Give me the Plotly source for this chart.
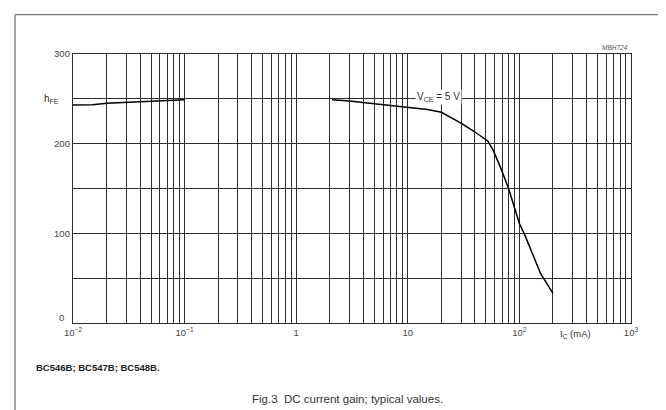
import plotly.graph_objects as go

# ---- data ----
ic_low = [0.01, 0.015, 0.02, 0.03, 0.05, 0.07, 0.1]
hfe_low = [243, 243.5, 245, 246, 247.5, 248.5, 249]
ic_high = [2.1, 3, 5, 10, 15, 20, 30, 40, 52, 58, 68, 80, 100, 112, 155, 200]
hfe_high = [249, 247.5, 244.5, 240, 238, 235, 223, 213, 203, 193, 173, 150, 111, 98, 55, 33]

x_decades = [0.01, 0.1, 1, 10, 100, 1000]
x_labels = ["10<sup>\u22122</sup>", "10<sup>\u22121</sup>", "1", "10", "10<sup>2</sup>", "10<sup>3</sup>"]
y_ticks = [0, 50, 100, 150, 200, 250, 300]
y_labels = ["", "", "100", "", "200", "", "300"]
y_zero_label = "0"

FONT = "Arial, Liberation Sans, sans-serif"
GRID = "#2e2e2e"
TXT = "#444444"

# grid positions (1..9 per decade)
xt, xtxt = [], []
for d, lab in zip(x_decades, x_labels):
    xt.append(d)
    xtxt.append(lab)
    if d < 1000:
        for m in range(2, 10):
            xt.append(d * m)
            xtxt.append("")

fig = go.Figure()
fig.add_trace(go.Scatter(
    x=ic_low + [None] + ic_high,
    y=hfe_low + [None] + hfe_high,
    mode="lines",
    line=dict(color="black", width=1.5),
    connectgaps=False,
    showlegend=False,
    hoverinfo="skip",
))

L, R, T, B = 65, 623, 45.5, 315.5
W, H = 666, 410


def px(x):
    return (x - L) / (R - L)


def py(y):
    return (B - y) / (B - T)


fig.update_layout(
    width=W, height=H,
    margin=dict(l=L, r=W - R, t=T, b=H - B),
    paper_bgcolor="white", plot_bgcolor="white",
    font=dict(family=FONT, size=10, color=TXT),
    xaxis=dict(
        type="log", range=[-2, 3],
        tickmode="array", tickvals=xt, ticktext=xtxt,
        showgrid=True, gridcolor=GRID, gridwidth=1.2,
        showline=True, linecolor=GRID, linewidth=1.2, mirror=True,
        ticks="", tickfont=dict(size=9.5, color=TXT, family=FONT),
        zeroline=False,
    ),
    yaxis=dict(
        range=[0, 300],
        tickmode="array", tickvals=y_ticks, ticktext=y_labels,
        showgrid=True, gridcolor=GRID, gridwidth=1.3,
        showline=True, linecolor=GRID, linewidth=1.3, mirror=True,
        ticks="", tickfont=dict(size=9.5, color=TXT, family=FONT),
        zeroline=False,
    ),
    annotations=[
        dict(x=px(58), y=py(310), xref="paper", yref="paper",
             text=y_zero_label, showarrow=False, xanchor="right", yanchor="middle",
             font=dict(size=9.5, color=TXT, family=FONT)),
        dict(x=1.279, y=252.5, xref="x", yref="y",
             text="V<sub>CE</sub> = 5 V", showarrow=False,
             font=dict(size=10, color="#333", family=FONT),
             bgcolor="white", borderpad=1),
        dict(x=px(53), y=py(91), xref="paper", yref="paper",
             text="h<sub>FE</sub>", showarrow=False, xanchor="right", yanchor="middle",
             font=dict(size=10, color="#333", family=FONT)),
        dict(x=px(550), y=py(327), xref="paper", yref="paper",
             text="I<sub>C</sub> (mA)", showarrow=False, xanchor="left", yanchor="middle",
             font=dict(size=9.5, color="#333", family=FONT)),
        dict(x=px(622), y=py(39), xref="paper", yref="paper",
             text="<i>MBH724</i>", showarrow=False, xanchor="right", yanchor="middle",
             font=dict(size=6.5, color="#555", family=FONT)),
        dict(x=px(26), y=py(360), xref="paper", yref="paper",
             text="<b>BC546B; BC547B; BC548B.</b>", showarrow=False, xanchor="left", yanchor="middle",
             font=dict(size=9.5, color="#222", family=FONT)),
        dict(x=px(339), y=py(391.5), xref="paper", yref="paper",
             text="Fig.3  DC current gain; typical values.", showarrow=False,
             xanchor="center", yanchor="middle",
             font=dict(size=11.5, color="#333", family=FONT)),
    ],
    shapes=[
        dict(type="line", xref="paper", yref="paper",
             x0=px(7), y0=py(6), x1=px(7), y1=py(412),
             line=dict(color="#777", width=1.3)),
        dict(type="line", xref="paper", yref="paper",
             x0=px(7), y0=py(6), x1=px(668), y1=py(6),
             line=dict(color="#777", width=1.3)),
    ],
)

fig.write_html("out.html")
